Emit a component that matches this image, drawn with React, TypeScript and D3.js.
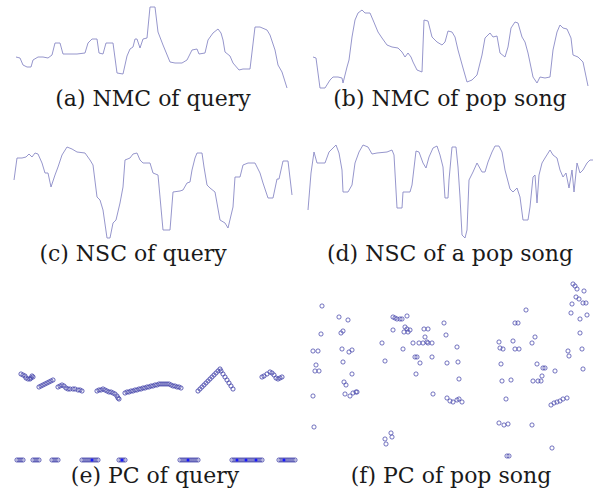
import React from "react";
import * as d3 from "d3";

// (a) NMC of query: frame index, normalized value
const nmcQueryFrames = [0,4,7,11,15,17,22,27,32,36,39,44,47,51,61,69,72,76,81,83,87,90,94,97,101,107,111,114,117,119,121,124,127,131,134,139,142,147,154,159,166,171,176,181,183,189,192,197,202,205,207,209,214,217,223,227,234,239,244,251,254,259,262,266,271];
const nmcQueryValues = [31,30,23,21,21,28,31,31,30,33,45,45,34,34,34,35,45,49,49,35,34,45,45,45,15,14,32,39,41,49,49,40,49,50,81,81,56,43,26,25,25,28,38,39,34,35,48,55,59,55,48,36,32,25,18,19,19,61,61,58,53,38,23,16,0];

// (b) NMC of pop song
const nmcSongFrames = [0,3,7,12,17,20,25,29,30,34,36,39,42,45,49,52,57,60,65,69,74,79,85,89,92,95,98,100,104,109,111,115,119,124,129,132,135,139,142,145,150,154,159,164,169,172,177,180,184,187,192,195,198,202,205,209,212,215,220,224,227,232,237,240,244,247,250,254,258,260,265,270,275];
const nmcSongValues = [31,30,0,0,8,11,11,10,5,21,28,51,68,75,78,75,75,68,56,50,43,41,40,36,31,35,31,26,18,16,68,67,51,46,43,46,57,56,51,38,20,6,8,13,33,50,55,51,52,35,31,41,60,66,65,51,46,35,11,5,11,10,11,38,56,63,60,59,50,33,31,26,2];

// (c) NSC of query
const nscQueryFrames = [0,3,8,12,15,18,21,24,28,31,34,37,41,44,48,53,58,63,71,76,79,83,86,89,93,96,99,102,106,109,111,116,119,123,126,129,136,139,144,149,156,159,166,169,173,176,178,181,183,188,190,193,196,201,206,211,214,219,221,226,229,234,241,246,249,254,259,263,265,269,274,278];
const nscQueryValues = [58,80,80,81,84,81,85,84,75,65,65,51,63,71,83,91,89,86,85,78,73,41,38,28,0,0,15,18,35,51,78,80,84,85,78,75,75,65,63,8,8,46,47,48,55,56,68,80,85,85,71,53,50,46,18,15,10,31,61,61,73,75,75,65,55,40,40,59,59,77,77,43];

// (d) NSC of a pop song
const nscSongFrames = [0,3,6,9,17,21,25,28,31,34,35,40,44,47,51,55,60,64,69,79,84,86,89,94,95,102,104,108,111,115,118,121,125,129,132,135,137,140,141,144,148,150,152,154,157,159,161,165,169,174,177,180,184,187,191,194,197,202,205,209,212,215,220,222,225,227,229,231,234,237,242,245,249,252,255,258,261,264,266,269,272,275,279,282,285];
const nscSongValues = [28,65,86,75,75,86,90,93,85,68,46,46,53,75,86,93,91,84,85,86,88,83,30,30,46,46,53,87,86,75,70,81,90,92,83,71,40,40,58,91,91,71,41,3,0,8,58,66,75,66,66,76,86,92,92,86,68,49,46,50,41,18,18,31,61,63,35,63,75,80,88,83,80,68,61,65,50,68,46,75,65,68,75,78,78];

// (e) PC of query: frame, pitch-class height (connected runs)
const pcQueryFrames = [
  21,23,25,26,28,30,31,33,32,
  39,41,43,45,47,49,51,53,
  58,60,62,64,66,68,70,73,75,78,80,82,
  97,99,101,103,105,107,109,111,113,115,117,118,119,
  125,127,129,131,133,135,137,139,141,143,145,147,149,151,153,155,157,159,161,163,165,167,169,171,173,175,177,179,181,
  198,200,202,204,206,208,210,212,214,216,218,220,221,223,225,227,229,231,233,
  262,264,267,270,272,274,276,278,280,282,
  17,19,21,23,33,35,37,39,52,54,56,58,82,84,86,88,90,92,94,96,98,119,121,123,125,
  180,182,184,186,188,190,192,194,196,198,232,234,236,238,240,242,244,246,248,250,252,254,256,258,260,262,279,281,283,285,287,289,291,293,295
];
const pcQueryValues = [
  96,95,94,92,91,91,92,93,94,
  83,84,85,86,87,88,89,90,
  83,84,85,84,82,81,81,81,81,80,80,79,
  79,80,80,81,80,79,78,78,77,76,74,72,71,
  77,78,78,79,79,80,80,81,81,82,82,83,83,84,84,85,85,86,86,86,86,86,86,85,84,84,83,83,82,
  79,81,83,85,87,89,91,93,95,97,99,101,99,96,93,90,87,84,81,
  93,94,96,98,97,95,92,91,92,93,
  10,10,10,10,10,10,10,10,10,10,10,10,10,10,10,10,10,10,10,10,10,10,10,10,10,
  10,10,10,10,10,10,10,10,10,10,10,10,10,10,10,10,10,10,10,10,10,10,10,10,10,10,10,10,10,10,10,10,10,10,10
];
const pcQueryFilledFrames = [92,122,188,237,246,256,284];
const pcQueryFilledValues = [10,10,10,10,10,10,10];

// (f) PC of pop song
const pcSongFrames = [22,39,48,21,41,43,13,18,42,49,52,43,16,15,19,52,44,46,45,50,53,56,57,13,14,
  93,95,97,100,102,107,93,105,107,110,104,108,82,113,119,123,127,128,132,125,124,128,103,115,117,120,85,116,132,133,144,146,157,147,158,159,147,150,153,157,159,162,85,91,92,86,
  199,200,203,213,215,218,226,215,219,201,202,211,206,232,235,237,243,245,242,233,238,241,255,199,204,208,232,207,209,252,251,254,257,260,263,267,273,275,277,284,276,279,286,283,272,271,280,287,280,282,268,269,283];
const pcSongValues = [164,153,150,136,137,139,119,119,121,118,120,108,105,99,99,96,88,85,76,74,77,78,78,74,43,
  153,152,151,151,151,154,140,143,141,140,138,138,127,127,127,127,128,127,127,133,141,141,121,113,113,107,109,96,113,76,147,135,123,107,108,91,72,69,68,70,71,68,31,37,33,26,
  128,122,121,129,147,147,160,121,121,106,89,90,71,127,133,106,102,102,94,89,89,89,99,47,45,46,45,14,14,22,65,67,68,69,71,72,186,184,181,179,173,171,167,167,166,157,151,155,137,121,119,114,101];

const W = 600;
const H = 496;
const lineColor = "#8a8ac6";
const circleColor = "#4444aa";
const font = "DejaVu Serif";

type LinePanel = { frames: number[]; values: number[]; x0: number; x1: number; yTop: number; yBottom: number; vmax: number; fmax: number; label: string; lx: number; ly: number };

const linePanels: LinePanel[] = [
  { frames: nmcQueryFrames, values: nmcQueryValues, x0: 16, x1: 287, yTop: 7, yBottom: 88, vmax: 81, fmax: 271, label: "(a) NMC of query", lx: 153, ly: 106 },
  { frames: nmcSongFrames, values: nmcSongValues, x0: 313, x1: 588, yTop: 10, yBottom: 88, vmax: 78, fmax: 275, label: "(b) NMC of pop song", lx: 450, ly: 106 },
  { frames: nscQueryFrames, values: nscQueryValues, x0: 14, x1: 292, yTop: 147, yBottom: 238, vmax: 91, fmax: 278, label: "(c) NSC of query", lx: 133, ly: 261 },
  { frames: nscSongFrames, values: nscSongValues, x0: 308, x1: 593, yTop: 145, yBottom: 238, vmax: 93, fmax: 285, label: "(d) NSC of a pop song", lx: 450, ly: 261 },
];

export default function App() {
  const pcY = d3.scaleLinear().domain([0, 100]).range([470, 370]);
  const pcXe = d3.scaleLinear().domain([0, 300]).range([0, 300]);
  const pcXf = d3.scaleLinear().domain([0, 300]).range([300, 600]);
  const fs = 22;
  return (
    <svg width={W} height={H} style={{ position: "absolute", left: 0, top: 0, background: "#fff" }}>
      <rect width={W} height={H} fill="#fff" />
      {linePanels.map((p, i) => {
        const x = d3.scaleLinear().domain([0, p.fmax]).range([p.x0, p.x1]);
        const y = d3.scaleLinear().domain([0, p.vmax]).range([p.yBottom, p.yTop]);
        const line = d3.line<number>().x((_, j) => x(p.frames[j])).y((v) => y(v));
        return (
          <g key={i}>
            <path d={line(p.values) || ""} fill="none" stroke={lineColor} strokeWidth={0.9} />
            <text x={p.lx} y={p.ly} textAnchor="middle" fontFamily={font} fontSize={fs} fill="#1a1a1a">{p.label}</text>
          </g>
        );
      })}
      <g>
        {pcQueryFrames.map((f, i) => (
          <circle key={"e" + i} cx={pcXe(f)} cy={pcY(pcQueryValues[i])} r={2.1} fill="none" stroke={circleColor} strokeWidth={0.85} />
        ))}
        {pcQueryFilledFrames.map((f, i) => (
          <circle key={"ef" + i} cx={pcXe(f)} cy={pcY(pcQueryFilledValues[i])} r={1.5} fill="#1a1aff" />
        ))}
        <text x={155} y={483} textAnchor="middle" fontFamily={font} fontSize={fs} fill="#1a1a1a">(e) PC of query</text>
      </g>
      <g>
        {pcSongFrames.map((f, i) => (
          <circle key={"f" + i} cx={pcXf(f)} cy={pcY(pcSongValues[i])} r={2.1} fill="none" stroke={circleColor} strokeWidth={0.75} />
        ))}
        <text x={451} y={483} textAnchor="middle" fontFamily={font} fontSize={fs} fill="#1a1a1a">(f) PC of pop song</text>
      </g>
    </svg>
  );
}
